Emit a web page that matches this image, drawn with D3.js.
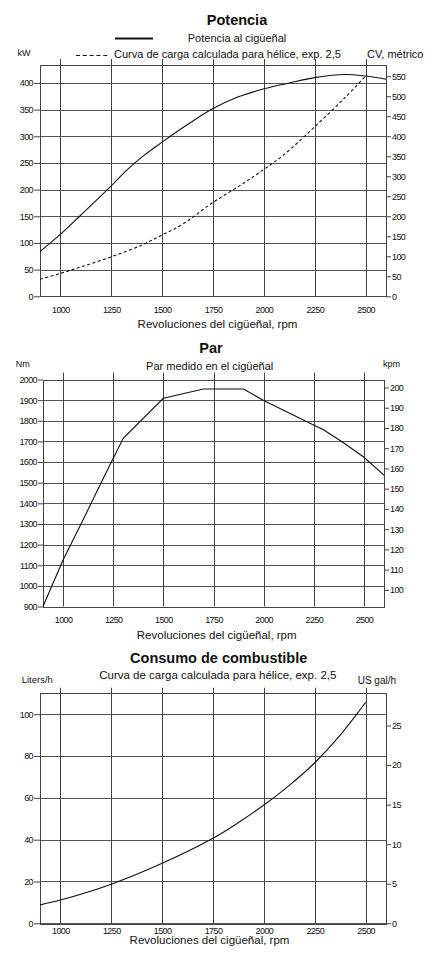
<!DOCTYPE html>
<html>
<head>
<meta charset="utf-8">
<script src="https://cdn.jsdelivr.net/npm/d3@7"></script>
<style>
  body { margin: 0; background: #fff; }
  svg { display: block; font-family: "Liberation Sans", Arial, sans-serif; fill: #111; }
  .tick text { font-family: "Liberation Sans", Arial, sans-serif; font-size: 9px; letter-spacing: -0.6px; fill: #111; }
  .tick line { stroke: #444; }
</style>
</head>
<body>
<div id="chart"></div>
<script>
// ---- Data ----
const rpmTicks = [1000, 1250, 1500, 1750, 2000, 2250, 2500];

// Potencia
const powerRpm = [900, 1000, 1100, 1250, 1325, 1400, 1500, 1625, 1750, 1875, 2000, 2125, 2250, 2400, 2500, 2600];
const powerKw  = [84, 116, 152, 207, 236, 261, 289, 322, 352, 374, 389, 400, 410, 416, 413, 407];
const propRpm  = [900, 1000, 1100, 1250, 1400, 1500, 1600, 1750, 1900, 2000, 2100, 2250, 2400, 2500];
const propKw   = [32, 43, 55, 74, 96, 115, 135, 176, 212, 238, 266, 318, 373, 413];
const kwTicks  = [0, 50, 100, 150, 200, 250, 300, 350, 400];
const cvTicks  = [0, 50, 100, 150, 200, 250, 300, 350, 400, 450, 500, 550];

// Par
const torqueRpm = [900, 1000, 1100, 1200, 1300, 1500, 1700, 1900, 2000, 2300, 2400, 2500, 2600];
const torqueNm  = [900, 1125, 1320, 1520, 1715, 1909, 1954, 1954, 1898, 1755, 1692, 1623, 1537];
const nmTicks   = [900, 1000, 1100, 1200, 1300, 1400, 1500, 1600, 1700, 1800, 1900, 2000];
const kpmTicks  = [100, 110, 120, 130, 140, 150, 160, 170, 180, 190, 200];

// Consumo de combustible
const fuelRpm  = [900, 1000, 1250, 1500, 1750, 1875, 2000, 2125, 2250, 2375, 2500];
const fuelLph  = [8.8, 11.1, 18.7, 28.7, 40.7, 48.2, 56.6, 66, 76.8, 90, 105.7];
const lphTicks = [0, 20, 40, 60, 80, 100];
const galTicks = [0, 5, 10, 15, 20, 25];

const W = 436, H = 958;
const svg = d3.select("#chart")
  .append("svg")
    .attr("width", W)
    .attr("height", H);

// Draws grid, frame and both y axes for one panel, returns the scales
function drawPanel(p) {
  const x  = d3.scaleLinear().domain([900, 2600]).range([p.left, p.right]);
  const y  = d3.scaleLinear().domain(p.yDomain).range([p.bottom, p.top]);
  const y2 = d3.scaleLinear().domain(p.y2Domain).range([p.bottom, p.top]);
  const g  = svg.append("g");

  g.selectAll(".hgrid")
    .data(p.yTicks)
    .join("line")
      .attr("class", "hgrid")
      .attr("x1", p.left).attr("x2", p.right)
      .attr("y1", d => Math.round(y(d)) + 0.5)
      .attr("y2", d => Math.round(y(d)) + 0.5)
      .attr("stroke", "#555");

  g.selectAll(".vgrid")
    .data(rpmTicks)
    .join("line")
      .attr("class", "vgrid")
      .attr("x1", d => Math.round(x(d)) + 0.5)
      .attr("x2", d => Math.round(x(d)) + 0.5)
      .attr("y1", p.top - p.stub)
      .attr("y2", p.bottom)
      .attr("stroke", "#444");

  g.append("rect")
    .attr("x", Math.round(p.left) + 0.5)
    .attr("y", Math.round(p.top) + 0.5)
    .attr("width", Math.round(p.right - p.left))
    .attr("height", Math.round(p.bottom - p.top))
    .attr("fill", "none")
    .attr("stroke", "#444");

  g.append("g")
      .attr("transform", `translate(${Math.round(p.left)},0)`)
      .call(d3.axisLeft(y).tickValues(p.yTicks).tickSize(p.lTick).tickPadding(1).tickFormat(d3.format("d")))
      .call(a => a.select(".domain").remove());

  g.append("g")
      .attr("transform", `translate(${Math.round(p.right)},0)`)
      .call(d3.axisRight(y2).tickValues(p.y2Ticks).tickSize(5).tickPadding(1).tickFormat(d3.format("d")))
      .call(a => a.select(".domain").remove());

  g.append("g")
      .attr("transform", `translate(0,${Math.round(p.bottom)})`)
      .call(d3.axisBottom(x).tickValues(rpmTicks).tickSize(0).tickPadding(p.xPad).tickFormat(d3.format("d")))
      .call(a => a.select(".domain").remove());

  return { x, y };
}

function addText(txt, x, y, size, anchor, weight) {
  svg.append("text")
    .attr("x", x).attr("y", y)
    .attr("text-anchor", anchor || "start")
    .style("font-size", size + "px")
    .style("font-weight", weight || "normal")
    .text(txt);
}

function drawCurve(sc, xs, ys, curve, dash) {
  svg.append("path")
    .datum(xs.map((r, i) => [r, ys[i]]))
    .attr("fill", "none")
    .attr("stroke", "#111")
    .attr("stroke-width", 1.1)
    .attr("stroke-dasharray", dash || null)
    .attr("d", d3.line().x(d => sc.x(d[0])).y(d => sc.y(d[1])).curve(curve));
}

// ---- Potencia ----
const p1 = drawPanel({
  left: 40, right: 386, top: 65, bottom: 296.3, stub: 6, lTick: 6, xPad: 11,
  yDomain: [0, 433.7], y2Domain: [0, 578],
  yTicks: kwTicks, y2Ticks: cvTicks
});
drawCurve(p1, powerRpm, powerKw, d3.curveCatmullRom);
drawCurve(p1, propRpm, propKw, d3.curveCatmullRom, "3,2.5");

addText("Potencia", 237, 25, 14.5, "middle", "bold");
svg.append("line").attr("x1", 115).attr("x2", 153).attr("y1", 38.5).attr("y2", 38.5)
  .attr("stroke", "#111").attr("stroke-width", 1.8);
addText("Potencia al cigüeñal", 237, 41.5, 11, "middle");
svg.append("line").attr("x1", 76).attr("x2", 110).attr("y1", 55.5).attr("y2", 55.5)
  .attr("stroke", "#111").attr("stroke-width", 1.2).attr("stroke-dasharray", "4,2.8");
addText("Curva de carga calculada para hélice, exp. 2,5", 114, 58, 11);
addText("kW", 17.5, 56, 9);
addText("CV, métrico", 367, 58, 11);
addText("Revoluciones del cigüeñal, rpm", 217.5, 327.5, 11.5, "middle");

// ---- Par ----
const p2 = drawPanel({
  left: 43, right: 384, top: 379.5, bottom: 606.5, stub: 7, lTick: 5, xPad: 9.5,
  yDomain: [900, 2000], y2Domain: [900 / 9.80665, 2000 / 9.80665],
  yTicks: nmTicks, y2Ticks: kpmTicks
});
drawCurve(p2, torqueRpm, torqueNm, d3.curveLinear);

addText("Par", 211, 353, 14.5, "middle", "bold");
addText("Par medido en el cigüeñal", 209.7, 370, 11, "middle");
addText("Nm", 15.7, 367, 9);
addText("kpm", 383, 367, 9);
addText("Revoluciones del cigüeñal, rpm", 216.7, 639, 11.5, "middle");

// ---- Consumo de combustible ----
const p3 = drawPanel({
  left: 40, right: 386, top: 692.7, bottom: 923.3, stub: 5, lTick: 6, xPad: 4.5,
  yDomain: [0, 110.3], y2Domain: [0, 110.3 / 3.785],
  yTicks: lphTicks, y2Ticks: galTicks
});
drawCurve(p3, fuelRpm, fuelLph, d3.curveCatmullRom);

addText("Consumo de combustible", 218.7, 663.3, 14.5, "middle", "bold");
addText("Curva de carga calculada para hélice, exp. 2,5", 217.8, 679.3, 11.5, "middle");
addText("Liters/h", 21.7, 683, 9.5);
addText("US gal/h", 357.7, 684, 10);
addText("Revoluciones del cigüeñal, rpm", 209.5, 944.3, 11.5, "middle");
</script>
</body>
</html>
